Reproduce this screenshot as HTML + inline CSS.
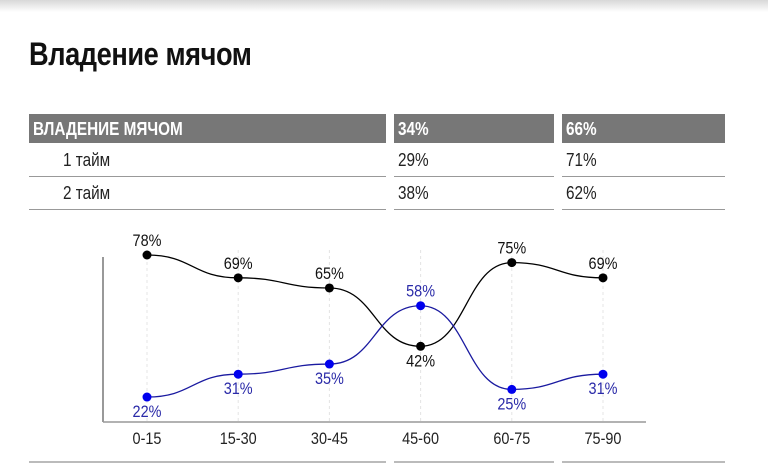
<!DOCTYPE html>
<html><head><meta charset="utf-8"><style>
body{margin:0;width:768px;height:464px;background:#fff;overflow:hidden;position:relative;font-family:"Liberation Sans Narrow","Liberation Sans",sans-serif;}
.shadow{position:absolute;left:0;top:0;width:768px;height:12px;background:linear-gradient(#d8d8d8,#fff);}
h1{position:absolute;left:29px;top:36px;margin:0;font-size:32px;font-weight:bold;color:#111;letter-spacing:-0.5px;transform:scaleX(0.85);transform-origin:0 0;white-space:nowrap;}
.cell{position:absolute;font-size:18px;color:#222;box-sizing:border-box;padding-left:4px;}
.cell span{display:inline-block;transform:scaleX(0.85);transform-origin:0 0;white-space:nowrap;}
.hd{background:#777;color:#fff;height:29px;top:114px;line-height:30px;font-weight:bold;}
.rw{height:32px;line-height:30px;border-bottom:1px solid #999;}
</style></head><body>
<div class="shadow"></div>
<h1>Владение мячом</h1>
<div class="cell hd" style="left:29px;width:357px"><span>ВЛАДЕНИЕ МЯЧОМ</span></div>
<div class="cell hd" style="left:394px;width:160px"><span>34%</span></div>
<div class="cell hd" style="left:562px;width:163px"><span>66%</span></div>
<div class="cell rw" style="left:29px;width:357px;top:145px;padding-left:34px"><span>1 тайм</span></div>
<div class="cell rw" style="left:394px;width:160px;top:145px"><span>29%</span></div>
<div class="cell rw" style="left:562px;width:163px;top:145px"><span>71%</span></div>
<div class="cell rw" style="left:29px;width:357px;top:178px;padding-left:34px"><span>2 тайм</span></div>
<div class="cell rw" style="left:394px;width:160px;top:178px"><span>38%</span></div>
<div class="cell rw" style="left:562px;width:163px;top:178px"><span>62%</span></div>
<svg id="chart" width="768" height="464" style="position:absolute;left:0;top:0"></svg>
<script>
const categories=["0-15","15-30","30-45","45-60","60-75","75-90"];
const team1=[78,69,65,42,75,69];
const team2=[22,31,35,58,25,31];
const svg=document.getElementById('chart');
const NS="http://www.w3.org/2000/svg";
function x(i){return 147+i*91.2;}
function y(v){return 255+(78-v)*2.536;}
function mk(t,a,name){const e=document.createElementNS(NS,t);for(const k in a)e.setAttribute(k,a[k]);


svg.appendChild(e);return e;}
function txt(s,xx,yy,color,name){const t=mk('text',{x:xx,y:yy,'text-anchor':'middle','font-size':'17',fill:color,'font-family':'Liberation Sans Narrow, Liberation Sans, sans-serif',transform:`translate(${xx},0) scale(0.85,1) translate(${-xx},0)`},name);t.textContent=s;return t;}
categories.forEach((c,i)=>{
mk('line',{x1:x(i),x2:x(i),y1:250,y2:421,stroke:'#e4e4e4','stroke-dasharray':'3,3'},'grid-line');
txt(c,x(i),444,'#222','x-tick-label');
});
mk('line',{x1:103,x2:103,y1:257,y2:422,stroke:'#333','stroke-width':1},'y-axis');
mk('line',{x1:103,x2:646,y1:422,y2:422,stroke:'#999','stroke-width':1.5},'x-axis');
function series(data,color,lcolor,tcolor,name,above){
let d=`M${x(0)},${y(data[0])}`;
for(let i=1;i<data.length;i++){const mx=(x(i-1)+x(i))/2;d+=` C${mx},${y(data[i-1])} ${mx},${y(data[i])} ${x(i)},${y(data[i])}`;}
mk('path',{d:d,fill:'none',stroke:lcolor,'stroke-width':1.3},name+'-line');
data.forEach((v,i)=>{
mk('circle',{cx:x(i),cy:y(v),r:4.5,fill:color},name+'-point');
txt(v+'%',x(i),above[i]?y(v)-9:y(v)+20,tcolor,name+'-value-label');
});}
series(team1,'#000','#000','#111','team1',[1,1,1,0,1,1]);
series(team2,'#0000ee','#1a1aa0','#2a2aa8','team2',[0,0,0,1,0,0]);
mk('line',{x1:29,x2:386,y1:462,y2:462,stroke:'#bbb','stroke-width':2},'footer-line');
mk('line',{x1:394,x2:554,y1:462,y2:462,stroke:'#bbb','stroke-width':2},'footer-line');
mk('line',{x1:562,x2:725,y1:462,y2:462,stroke:'#bbb','stroke-width':2},'footer-line');
</script>
</body></html>
